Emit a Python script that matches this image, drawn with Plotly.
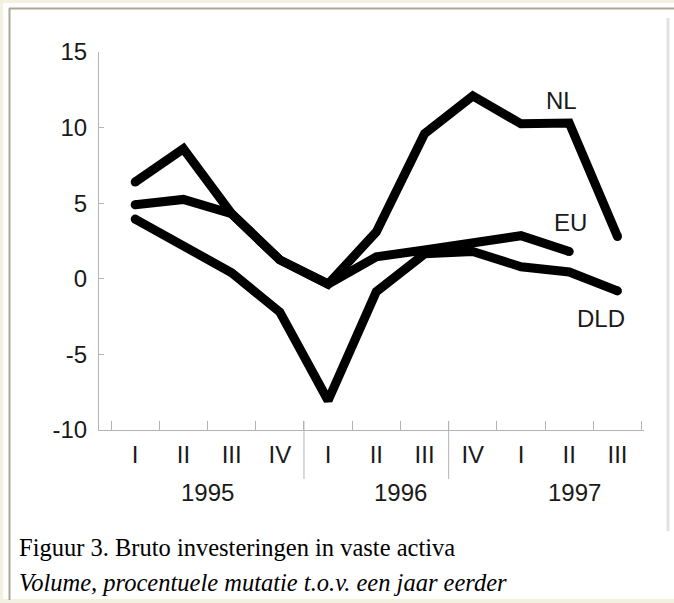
import plotly.graph_objects as go

quarters = ["I", "II", "III", "IV", "I", "II", "III", "IV", "I", "II", "III"]
years = ["1995", "1996", "1997"]
year_centers = [2.5, 6.5, 10.1]
y_ticks = [-10, -5, 0, 5, 10, 15]
y_ticktext = ["-10", "-5", "0", "5", "10", "15"]
nl = [6.4, 8.6, 4.3, 1.25, -0.35, 3.1, 9.6, 12.1, 10.25, 10.3, 2.8]
eu = [4.9, 5.25, 4.3, 1.25, -0.35, 1.45, 1.9, 2.4, 2.85, 1.8]
dld = [3.95, 2.2, 0.4, -2.2, -8.05, -0.85, 1.65, 1.8, 0.8, 0.45, -0.8]
series_labels = [("NL", 9.84, 11.8), ("EU", 10.03, 3.7), ("DLD", 10.66, -2.65)]

W, H = 674, 603
L, R, T, B = 99, 30, 52, 173
PW, PH = W - L - R, H - T - B


def px(xp):
    return (xp - L) / PW


def py(yp):
    return (H - B - yp) / PH


x = list(range(1, len(quarters) + 1))
fig = go.Figure()
for vals in (nl, eu, dld):
    xs_ = x[:len(vals)]
    fig.add_trace(go.Scatter(x=xs_, y=vals, mode="lines",
                             line=dict(color="black", width=9),
                             showlegend=False, hoverinfo="skip"))
    # rounded line ends
    fig.add_trace(go.Scatter(x=[xs_[0], xs_[-1]], y=[vals[0], vals[-1]], mode="markers",
                             marker=dict(color="black", size=9, line=dict(width=0)),
                             showlegend=False, hoverinfo="skip"))

axis_col = "#b4b4b4"
sans = "Liberation Sans, Arial, sans-serif"
serif = "Liberation Serif, Times New Roman, serif"
txt = "#1a1a1a"

fig.update_xaxes(range=[0.25, 11.55], tickvals=x, ticktext=quarters, ticks="",
                 showline=True, linecolor=axis_col, linewidth=1, showgrid=False,
                 zeroline=False, tickfont=dict(family=sans, size=24, color=txt),
                 ticklabelstandoff=3, automargin=False,
                 minor=dict(tickvals=[i + 0.5 for i in range(0, 12)], ticks="inside",
                            ticklen=9, tickcolor=axis_col, tickwidth=1))
fig.update_yaxes(range=[-10, 15], tickvals=y_ticks, ticktext=y_ticktext, ticks="inside",
                 ticklen=5, tickcolor=axis_col, showline=True, linecolor=axis_col,
                 linewidth=1, showgrid=False, zeroline=False, automargin=False,
                 tickfont=dict(family=sans, size=24, color=txt),
                 ticklabelstandoff=6)

shapes = []
beige = "#f3f0df"
shapes.append(dict(type="rect", xref="paper", yref="paper", x0=px(0), x1=px(W), y0=py(0), y1=py(3),
                   fillcolor=beige, line=dict(width=0), layer="below"))
shapes.append(dict(type="rect", xref="paper", yref="paper", x0=px(0), x1=px(3), y0=py(0), y1=py(H),
                   fillcolor=beige, line=dict(width=0), layer="below"))
shapes.append(dict(type="rect", xref="paper", yref="paper", x0=px(0), x1=px(W), y0=py(599), y1=py(H),
                   fillcolor=beige, line=dict(width=0), layer="below"))
shapes.append(dict(type="line", xref="paper", yref="paper", x0=px(9), x1=px(W), y0=py(8.5), y1=py(8.5),
                   line=dict(color="#aca899", width=2)))
shapes.append(dict(type="line", xref="paper", yref="paper", x0=px(9.5), x1=px(9.5), y0=py(8), y1=py(600),
                   line=dict(color="#aca899", width=2)))
shapes.append(dict(type="line", xref="paper", yref="paper", x0=px(668), x1=px(668), y0=py(18), y1=py(531),
                   line=dict(color="#e2e2e2", width=3)))
for xs in (4.5, 7.5):
    shapes.append(dict(type="line", xref="x", yref="paper", x0=xs, x1=xs, y0=py(421), y1=py(479),
                       line=dict(color=axis_col, width=1)))

annotations = []
for yr, xc in zip(years, year_centers):
    annotations.append(dict(text=yr, x=xc, y=py(492), xref="x", yref="paper", showarrow=False,
                            font=dict(family=sans, size=24, color=txt),
                            xanchor="center", yanchor="middle"))
for name, xv, yv in series_labels:
    annotations.append(dict(text=name, x=xv, y=yv, xref="x", yref="y", showarrow=False,
                            font=dict(family=sans, size=24, color=txt),
                            xanchor="center", yanchor="middle"))
annotations.append(dict(text="Figuur 3. Bruto investeringen in vaste activa", x=px(17), y=py(547),
                        xref="paper", yref="paper", showarrow=False, xanchor="left", yanchor="middle",
                        font=dict(family=serif, size=24.5, color="black")))
annotations.append(dict(text="<i>Volume, procentuele mutatie t.o.v. een jaar eerder</i>", x=px(17),
                        y=py(582), xref="paper", yref="paper", showarrow=False, xanchor="left",
                        yanchor="middle", font=dict(family=serif, size=24.5, color="black")))

fig.update_layout(width=W, height=H, margin=dict(l=L, r=R, t=T, b=B, pad=0),
                  paper_bgcolor="white", plot_bgcolor="white",
                  shapes=shapes, annotations=annotations)

fig.write_html("out.html", config={"displayModeBar": False},
               post_script="document.body.style.margin='0';document.body.style.overflow='hidden';")
